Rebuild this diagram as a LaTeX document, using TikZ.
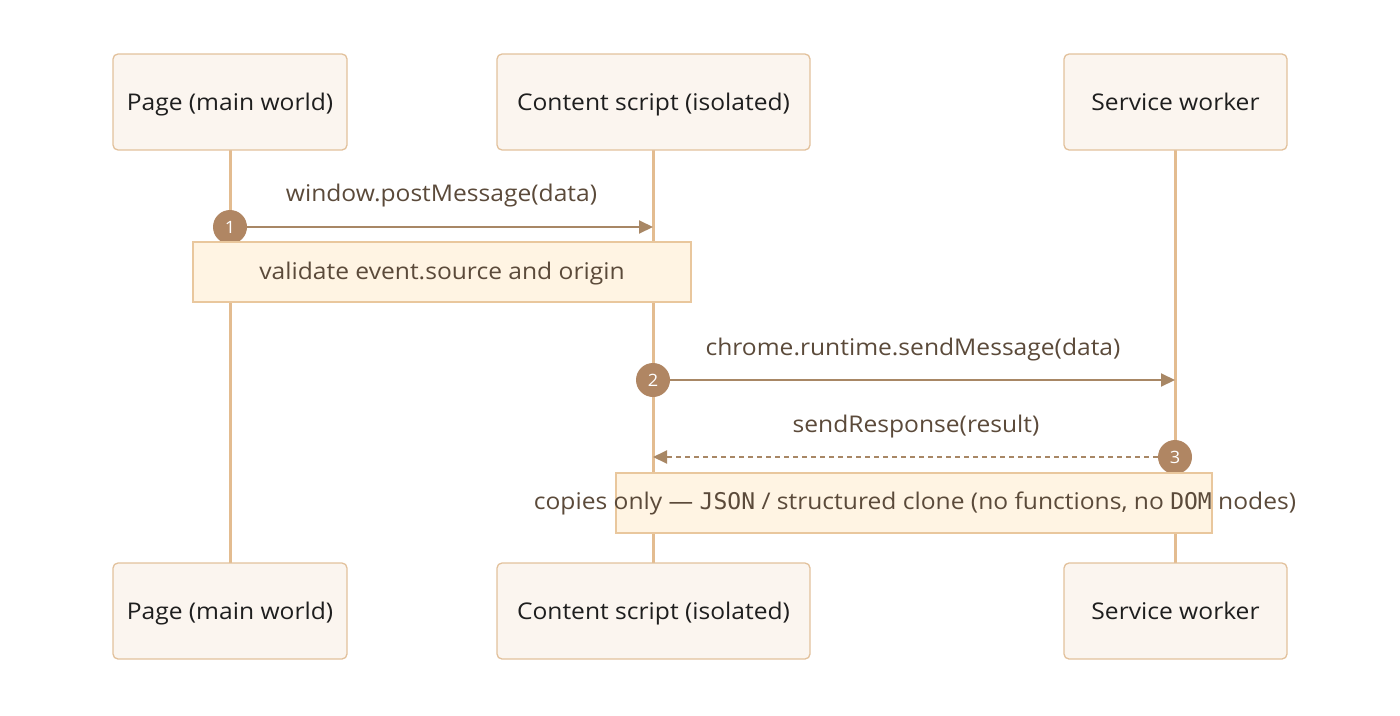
\documentclass[tikz,border=0pt]{standalone}
\usepackage{fontspec}
\setmainfont[FakeStretch=1.07]{Open Sans}
\newfontfamily\codefont{DejaVu Sans Mono}
\usetikzlibrary{arrows.meta}
\definecolor{boxfill}{HTML}{FBF5EF}
\definecolor{boxdraw}{HTML}{E2C19C}
\definecolor{lifeline}{HTML}{E3BC90}
\definecolor{arrowc}{HTML}{A88765}
\definecolor{badge}{HTML}{B08663}
\definecolor{notefill}{HTML}{FFF4E3}
\definecolor{notedraw}{HTML}{E9C79D}
\definecolor{labelc}{HTML}{5B4A3A}
\definecolor{boxtext}{HTML}{1E1E1E}
\tikzset{
  actor/.style={draw=boxdraw, fill=boxfill, line width=1.3pt, rounded corners=5pt,
    minimum height=96pt, inner sep=0pt},
  actortext/.style={text=boxtext, font=\fontsize{23}{26}\selectfont, inner sep=0pt,
    text height=17pt, text depth=5pt},
  life/.style={draw=lifeline, line width=3pt},
  msg/.style={draw=arrowc, line width=2pt, -{Triangle[length=14pt,width=13pt]}},
  reply/.style={msg, dash pattern=on 5pt off 4pt},
  badgenode/.style={circle, fill=badge, minimum size=34pt, inner sep=0pt, text=white,
    font=\fontsize{17}{19}\selectfont},
  notebox/.style={draw=notedraw, fill=notefill, line width=1.3pt, minimum height=60pt, inner sep=0pt},
  lbl/.style={text=labelc, font=\fontsize{23}{26}\selectfont, inner sep=0pt,
    text height=17pt, text depth=5pt},
}
\begin{document}
\begin{tikzpicture}[x=1pt,y=-1pt]
\useasboundingbox (0,0) rectangle (1400,715);
% lifelines
\coordinate (l1t) at (230,150); \coordinate (l1b) at (230,563);
\coordinate (l2t) at (653,150); \coordinate (l2b) at (653,563);
\coordinate (l3t) at (1175,150); \coordinate (l3b) at (1175,563);
\draw[life] (l1t) -- (l1b);
\draw[life] (l2t) -- (l2b);
\draw[life] (l3t) -- (l3b);
% actors
\node[actor, minimum width=234pt] (pt) at (230,102) {};
\node[actor, minimum width=313pt] (ct) at (653.5,102) {};
\node[actor, minimum width=223pt] (st) at (1175.5,102) {};
\node[actor, minimum width=234pt] (pb) at (230,611) {};
\node[actor, minimum width=313pt] (cb) at (653.5,611) {};
\node[actor, minimum width=223pt] (sb) at (1175.5,611) {};
\node[actortext] (ptt) at (230,104) {Page (main world)};
\node[actortext] (ctt) at (653.5,104) {Content script (isolated)};
\node[actortext] (stt) at (1175.5,104) {Service worker};
\node[actortext] (pbt) at (230,613) {Page (main world)};
\node[actortext] (cbt) at (653.5,613) {Content script (isolated)};
\node[actortext] (sbt) at (1175.5,613) {Service worker};
% message 1
\coordinate (m1e) at (653,227);
\node[badgenode] (b1) at (230,227) {1};
\draw[msg] (b1) -- (m1e);
\node[lbl] (t1) at (441.5,195) {window.postMessage(data)};
\node[notebox, minimum width=498pt] (n1) at (442,272) {};
\node[lbl] (n1t) at (442,273) {validate event.source and origin};
% message 2
\coordinate (m2e) at (1175,380);
\node[badgenode] (b2) at (653,380) {2};
\draw[msg] (b2) -- (m2e);
\node[lbl] (t2) at (913,349) {chrome.runtime.sendMessage(data)};
% message 3
\coordinate (m3e) at (653,457);
\node[badgenode] (b3) at (1175,457) {3};
\draw[reply] (b3) -- (m3e);
\node[lbl] (t3) at (916,426) {sendResponse(result)};
\node[notebox, minimum width=596pt] (n2) at (914,503) {};
\node[lbl] (n2t) at (915,503) {copies only — {\codefont JSON} / structured clone (no functions, no {\codefont DOM} nodes)};
\end{tikzpicture}
\end{document}
